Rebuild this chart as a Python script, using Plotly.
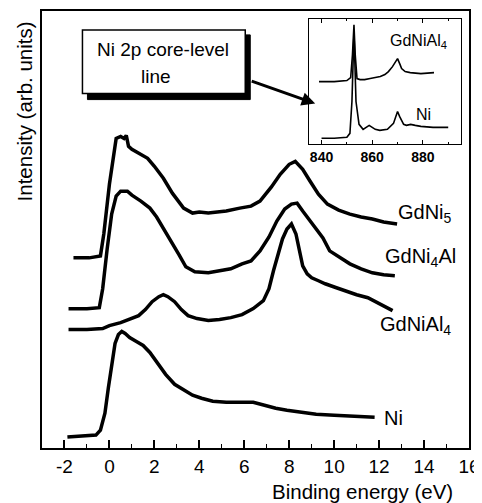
import plotly.graph_objects as go

# ---- main spectra (binding energy in eV, intensity in arb. units with vertical offsets) ----
gdni5_x = [-1.6, -0.9, -0.4, -0.25, 0.0, 0.2, 0.3, 0.5, 0.65, 0.75, 0.85, 1.0, 1.3, 1.7, 2.0, 2.4, 2.8, 3.3, 3.7, 4.0, 4.4,
           4.8, 5.2, 5.8, 6.3, 6.7, 7.2, 7.6, 8.0, 8.27, 8.6, 8.93, 9.3, 9.7, 10.2, 10.7, 11.2, 11.7, 12.2, 12.8]
gdni5_y = [191, 191, 193, 215, 265, 300, 311, 313, 311, 314, 303, 300, 296, 291, 283, 271, 256, 241, 236, 237, 236,
           237, 238, 241, 243, 248, 262, 275, 285, 288, 280, 268, 255, 245, 239, 235, 232, 230, 227, 225]

gdni4al_x = [-1.82, -1.0, -0.45, -0.3, -0.1, 0.1, 0.3, 0.5, 0.8, 1.0, 1.4, 1.8, 2.1, 2.4, 2.8, 3.1, 3.4, 3.8, 4.4, 5.0, 5.4,
             5.9, 6.3, 6.7, 7.1, 7.45, 7.8, 8.1, 8.35, 8.6, 8.93, 9.2, 9.5, 9.8, 10.2, 10.7, 11.2, 11.7, 12.2, 12.7]
gdni4al_y = [140, 140, 141, 160, 200, 235, 253, 258, 258, 254, 248, 241, 232, 221, 205, 194, 182, 177, 176, 178, 180,
             185, 188, 198, 212, 228, 240, 245, 246, 238, 228, 219, 211, 198, 192, 185, 180, 176, 174, 173]

gdnial4_x = [-1.82, -1.0, -0.3, 0.0, 0.5, 1.0, 1.3, 1.6, 1.9, 2.2, 2.4, 2.6, 2.9, 3.2, 3.5, 3.9, 4.4, 4.9, 5.4, 5.9, 6.4,
             6.85, 7.1, 7.3, 7.5, 7.7, 7.9, 8.1, 8.3, 8.45, 8.6, 8.8, 9.0, 9.3, 9.6, 10.1, 10.6, 11.0, 11.5, 12.0, 12.6]
gdnial4_y = [119, 119, 120, 123, 126, 130, 133, 139, 147, 152, 154, 152, 147, 139, 133, 130, 128, 129, 131, 134, 140,
             148, 160, 178, 195, 210, 220, 225, 215, 198, 183, 175, 171, 168, 165, 161, 157, 154, 151, 145, 138]

ni_x = [-1.87, -1.2, -0.6, -0.4, -0.2, -0.05, 0.1, 0.25, 0.4, 0.55, 0.7, 0.9, 1.2, 1.5, 1.8, 2.1, 2.5, 2.9, 3.3, 3.7,
        4.1, 4.6, 5.2, 5.8, 6.4, 6.9, 7.4, 7.9, 8.5, 9.2, 10.0, 10.8, 11.8]
ni_y = [11, 12, 13, 18, 35, 60, 85, 105, 114, 117, 115, 111, 107, 103, 96, 87, 74, 64, 58, 53,
        50, 47, 46, 46, 46, 43, 40, 38, 36, 34, 33, 32, 31]

# ---- inset: Ni 2p core-level line ----
in_gdnial4_x = [839, 845, 850, 851.5, 852.2, 852.8, 853.3, 854, 855.2, 857, 859.2, 861, 863.2, 865, 866.4, 868, 868.8,
                870, 871, 871.6, 873, 875, 879.2, 884.4]
in_gdnial4_y = [63, 63, 64, 67, 90, 120, 90, 66, 65, 65, 66, 67, 68, 70, 73, 78, 81, 86, 80, 76, 73, 72, 71, 72]

in_ni_x = [840, 845, 850, 851.2, 852, 852.8, 853.6, 854.8, 856.4, 858, 858.8, 860, 861.2, 863, 866, 868.4, 869.4, 870,
           870.8, 872.4, 873.5, 875.2, 877, 879.2, 884, 890]
in_ni_y = [6, 6, 7, 11, 43, 113, 43, 20, 15, 18, 19, 17, 15, 14, 15, 21, 28, 33, 28, 20, 19, 20, 19, 18, 17, 17]

x_ticks = [-2, 0, 2, 4, 6, 8, 10, 12, 14, 16]
inset_ticks = [840, 860, 880]

FONT = "Liberation Sans, Arial, sans-serif"

fig = go.Figure()
main_line = dict(color="black", width=3.5)
for xs, ys in [(gdni5_x, gdni5_y), (gdni4al_x, gdni4al_y), (gdnial4_x, gdnial4_y), (ni_x, ni_y)]:
    fig.add_trace(go.Scatter(x=xs, y=ys, mode="lines", line=main_line, showlegend=False,
                             xaxis="x", yaxis="y", hoverinfo="skip"))

inset_line = dict(color="black", width=1.6)
for xs, ys in [(in_gdnial4_x, in_gdnial4_y), (in_ni_x, in_ni_y)]:
    fig.add_trace(go.Scatter(x=xs, y=ys, mode="lines", line=inset_line, showlegend=False,
                             xaxis="x2", yaxis="y2", hoverinfo="skip"))

# page has an 8px body margin, so the figure is sized 8px smaller and shifted accordingly
fig.update_layout(
    width=474, height=495,
    margin=dict(l=34, r=13, t=1, b=55),
    paper_bgcolor="white", plot_bgcolor="white",
    font=dict(family=FONT, color="black"),
    xaxis=dict(domain=[0, 1], range=[-3, 16], tickvals=x_ticks, ticktext=[str(v) for v in x_ticks],
               ticks="inside", ticklen=8, tickwidth=1.5, tickcolor="black",
               minor=dict(dtick=1, tick0=-3, ticks="inside", ticklen=4, tickwidth=1.2, tickcolor="black"),
               showline=True, linecolor="black", linewidth=1.5, mirror=True,
               showgrid=False, zeroline=False, tickfont=dict(size=19, family=FONT)),
    yaxis=dict(domain=[0, 1], range=[0, 439], showticklabels=False, ticks="",
               showline=True, linecolor="black", linewidth=1.5, mirror=True,
               showgrid=False, zeroline=False),
    xaxis2=dict(domain=[0.625, 0.981], anchor="y2", range=[835, 895], tickvals=inset_ticks,
                ticks="inside", ticklen=4, tickwidth=1, tickcolor="black",
                minor=dict(dtick=10, tick0=840, ticks="inside", ticklen=2, tickwidth=1, tickcolor="black"),
                showline=True, linecolor="black", linewidth=1.3, mirror="allticks",
                showgrid=False, zeroline=False, tickfont=dict(size=14, family="Liberation Sans, Arial", weight="bold")),
    yaxis2=dict(domain=[0.695, 0.982], anchor="x2", range=[0, 126], showticklabels=False, ticks="",
                showline=True, linecolor="black", linewidth=1.3, mirror=True,
                showgrid=False, zeroline=False),
)

# callout box with drop shadow
fig.add_shape(type="rect", xref="x", yref="y", x0=-0.978, x1=6.267, y0=350, y1=415,
              fillcolor="black", line=dict(color="black", width=1), layer="above")
fig.add_shape(type="rect", xref="x", yref="y", x0=-1.2, x1=6.044, y0=356, y1=420,
              fillcolor="white", line=dict(color="black", width=1.5), layer="above")

ann = []
ann.append(dict(x=2.378, y=400, xref="x", yref="y", text="Ni 2p core-level", showarrow=False,
                font=dict(size=19, family=FONT), xanchor="center", yanchor="middle"))
ann.append(dict(x=2.09, y=373, xref="x", yref="y", text="line", showarrow=False,
                font=dict(size=19, family=FONT), xanchor="center", yanchor="middle"))
# arrow pointing to the inset
ann.append(dict(x=9.156, y=346, xref="x", yref="y", ax=-65, ay=-23, text="", showarrow=True,
                arrowhead=2, arrowsize=0.9, arrowwidth=3, arrowcolor="black"))

# curve labels
ann.append(dict(x=12.76, y=236, xref="x", yref="y", text="GdNi<sub>5</sub>", showarrow=False,
                font=dict(size=20, family=FONT), xanchor="left", yanchor="middle"))
ann.append(dict(x=12.18, y=191, xref="x", yref="y", text="GdNi<sub>4</sub>Al", showarrow=False,
                font=dict(size=20, family=FONT), xanchor="left", yanchor="middle"))
ann.append(dict(x=11.96, y=123, xref="x", yref="y", text="GdNiAl<sub>4</sub>", showarrow=False,
                font=dict(size=20, family=FONT), xanchor="left", yanchor="middle"))
ann.append(dict(x=12.13, y=30, xref="x", yref="y", text="Ni", showarrow=False,
                font=dict(size=20, family=FONT), xanchor="left", yanchor="middle"))

# inset labels
ann.append(dict(x=866.4, y=103, xref="x2", yref="y2", text="GdNiAl<sub>4</sub>", showarrow=False,
                font=dict(size=16, family=FONT), xanchor="left", yanchor="middle"))
ann.append(dict(x=876.4, y=30, xref="x2", yref="y2", text="Ni", showarrow=False,
                font=dict(size=16, family=FONT), xanchor="left", yanchor="middle"))

# axis titles
ann.append(dict(x=11.24, y=-0.1, xref="x", yref="paper", text="Binding energy (eV)", showarrow=False,
                font=dict(size=20.5, family=FONT), xanchor="center", yanchor="middle"))
ann.append(dict(x=-0.04, y=0.77, xref="paper", yref="paper", text="Intensity (arb. units)", showarrow=False,
                textangle=-90, font=dict(size=20.5, family=FONT), xanchor="center", yanchor="middle"))

fig.update_layout(annotations=ann)
fig.write_html("out.html")
